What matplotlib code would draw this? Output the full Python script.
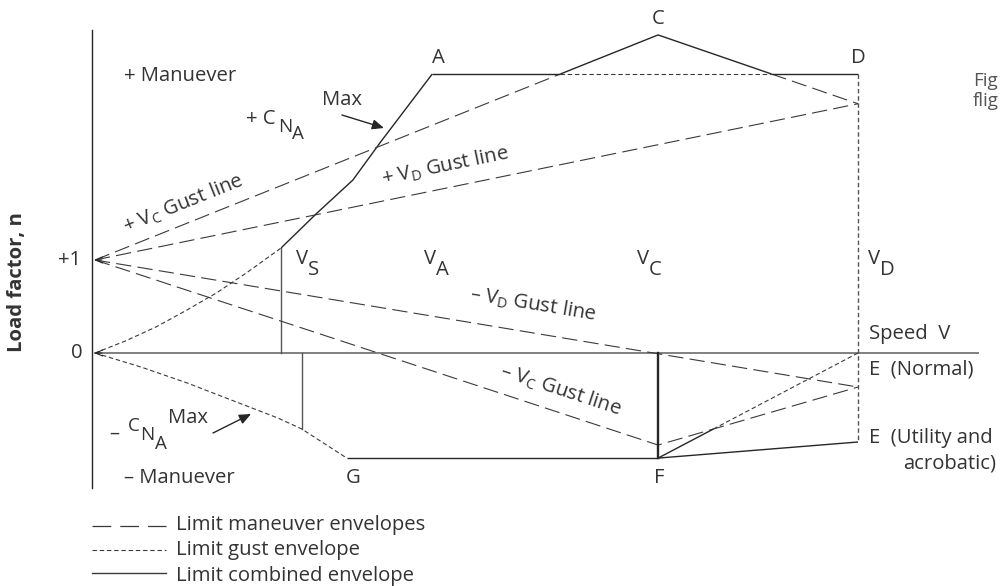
import matplotlib.pyplot as plt
import numpy as np

plt.rcParams['font.family'] = ['Open Sans', 'DejaVu Sans']
plt.rcParams['lines.scale_dashes'] = False

# speeds (V_D taken as 100) and load factors
V_S, V_S_NEG, V_G, V_A, V_C, V_D = 24.4, 27.1, 33.0, 44.2, 73.8, 100.0
N_POS, N_NEG = 3.0, -1.13
N_C = 3.42
N_D_GUST = 2.68
N_E_NORMAL = -0.366
N_E_UTIL = -0.957
N_F_GUST = -0.99
N_VS_TOP = 1.13
N_VS_NEG = -0.817
V_AXIS_END = 115.7

# +C_NA max curve (dotted part below V_S, solid part up to A)
pos_gust_v = [0, 4, 8, 12, 16, 20, 24.4]
pos_gust_n = [0, 0.13, 0.28, 0.46, 0.65, 0.87, 1.13]
pos_comb_v = [24.4, 29.1, 33.8, 37.35, 44.2]
pos_comb_n = [1.13, 1.505, 1.86, 2.26, 3.0]
# -C_NA max curve
neg_v = [0, 6, 12, 18, 24, 27.1, 33.0]
neg_n = [0, -0.15, -0.32, -0.51, -0.70, -0.817, -1.13]

INK = '#262626'
TXT = '#333333'
SOLID = dict(color=INK, lw=1.0, solid_capstyle='butt')
MAN = dict(color='#3a3a3a', lw=0.8, dashes=(11, 4.5))
GUST = dict(color='#3a3a3a', lw=0.8, dashes=(3.2, 2.0))
AXIS = dict(color='#808080', lw=1.4)

fig = plt.figure(figsize=(10, 5.86), dpi=100)
ax = fig.add_axes([0, 0, 1, 1])
ax.set_xlim(-95 / 7.63, 905 / 7.63)
ax.set_ylim(-233 / 93, 353 / 93)
ax.axis('off')


def px(x, y):
    # pixel position in the picture -> data coords (used for labels only)
    return (x - 95) / 7.63, (353 - y) / 93


def line_x_at_n(p, q, n):
    return p[0] + (n - p[1]) * (q[0] - p[0]) / (q[1] - p[1])


# axes
ax.plot([-0.4, -0.4], [3.47, -1.45], color=INK, lw=1.0)
ax.plot([0, V_AXIS_END], [0, 0], **AXIS)

# stall curves
ax.plot(pos_gust_v, pos_gust_n, **GUST)
ax.plot(pos_comb_v, pos_comb_n, **SOLID)
ax.plot([V_S, V_S], [0, N_VS_TOP], color='#555555', lw=1.0)
ax.plot(neg_v, neg_n, **GUST)
ax.plot([V_S_NEG, V_S_NEG], [0, N_VS_NEG], color='#555555', lw=1.0)

# positive gust lines and top of envelope
p_one = (0, 1)
p_c = (V_C, N_C)
p_dg = (V_D, N_D_GUST)
v1 = line_x_at_n(p_one, p_c, N_POS)
v2 = line_x_at_n(p_c, p_dg, N_POS)
ax.plot([0, v1], [1, N_POS], **MAN)
ax.plot([v1, V_C, v2], [N_POS, N_C, N_POS], **SOLID)
ax.plot([v2, V_D], [N_POS, N_D_GUST], **MAN)
ax.plot([0, V_D], [1, N_D_GUST], **MAN)
ax.plot([V_A, v1], [N_POS, N_POS], **SOLID)
ax.plot([v1, v2], [N_POS, N_POS], **GUST)
ax.plot([v2, V_D], [N_POS, N_POS], **SOLID)

# V_D line
ax.plot([V_D, V_D], [N_POS, N_E_UTIL], color='#555555', lw=1.0, dashes=(3.2, 2.0))

# negative gust lines
ax.plot([0, V_D], [1, N_E_NORMAL], **MAN)
ax.plot([0, V_C, V_D], [1, N_F_GUST, N_E_NORMAL], **MAN)

# bottom of envelope
ax.plot([V_G, V_C], [N_NEG, N_NEG], **SOLID)
ax.plot([V_C, V_C], [0, N_NEG], color=INK, lw=1.7)
ax.plot([V_C, V_D], [N_NEG, N_E_UTIL], **SOLID)

# F -> V_D at n = 0, solid up to the -V_C gust return line
s1 = (0 - N_NEG) / (V_D - V_C)
s2 = (N_E_NORMAL - N_F_GUST) / (V_D - V_C)
vx = V_C + (N_F_GUST - N_NEG) / (s1 - s2)
nx = N_NEG + s1 * (vx - V_C)
ax.plot([V_C, vx], [N_NEG, nx], **SOLID)
ax.plot([vx, V_D], [nx, 0], **GUST)

# small arrow heads at the origin points
for n0 in (1, 0):
    ax.annotate('', xy=(0, n0), xytext=(0.9, n0),
                arrowprops=dict(arrowstyle='->,head_length=0.45,head_width=0.22',
                                lw=0.8, color=INK, shrinkA=0, shrinkB=0))

FS = 14.6


def t(x, y, s, **kw):
    kw.setdefault('fontsize', FS)
    kw.setdefault('color', TXT)
    kw.setdefault('va', 'center')
    ax.text(*px(x, y), s, **kw)


def sub_label(x, y, main, sub, fs=FS, dx=12, dy=11):
    t(x, y, main, fontsize=fs)
    t(x + dx, y + dy, sub, fontsize=fs)


# labels
t(124, 76, '+ Manuever')
t(246, 119, '+ C')
t(278, 127, 'N', fontsize=13.5)
t(292, 134, 'A', fontsize=13.5)
t(322, 100, 'Max')
ax.annotate('', xy=px(384, 128), xytext=px(342, 115),
            arrowprops=dict(arrowstyle='-|>,head_length=0.7,head_width=0.3',
                            lw=1.0, color=INK, shrinkA=0, shrinkB=0))
t(438, 58, 'A', ha='center')
t(658, 19, 'C', ha='center')
t(858, 58, 'D', ha='center')
t(973, 81, 'Fig', color='#555555', fontsize=13.5)
t(973, 101, 'flig', color='#555555', fontsize=13.5)

ax.text(*px(183, 204), r'+ V$_{\mathregular{C}}$ Gust line', fontsize=FS, color=TXT,
        rotation=21.9, ha='center', va='center', rotation_mode='anchor')
ax.text(*px(445, 166), r'+ V$_{\mathregular{D}}$ Gust line', fontsize=FS, color=TXT,
        rotation=11.6, ha='center', va='center', rotation_mode='anchor')
ax.text(*px(533, 304), r'– V$_{\mathregular{D}}$ Gust line', fontsize=FS, color=TXT,
        rotation=-9.4, ha='center', va='center', rotation_mode='anchor')
ax.text(*px(561, 390), r'– V$_{\mathregular{C}}$ Gust line', fontsize=FS, color=TXT,
        rotation=-18.2, ha='center', va='center', rotation_mode='anchor')

sub_label(296, 259, 'V', 'S')
sub_label(424, 259, 'V', 'A')
sub_label(637, 259, 'V', 'C')
sub_label(868, 259, 'V', 'D')

t(81, 260, '+1', ha='right')
t(83, 353, '0', ha='right')
ax.text(*px(17, 282), 'Load factor, n', fontsize=FS, fontweight='bold', color=TXT,
        rotation=90, ha='center', va='center')

t(869, 334, 'Speed  V')
t(869, 370, 'E  (Normal)')
t(869, 438, 'E  (Utility and')
t(996, 463, 'acrobatic)', ha='right')

t(109, 434, '–')
t(128, 426, 'C', fontsize=13.5)
t(140, 435, 'N', fontsize=13.5)
t(155, 444, 'A', fontsize=13.5)
t(168, 418, 'Max')
ax.annotate('', xy=px(251, 414), xytext=px(213, 433),
            arrowprops=dict(arrowstyle='-|>,head_length=0.7,head_width=0.3',
                            lw=1.0, color=INK, shrinkA=0, shrinkB=0))
t(124, 478, '– Manuever')
t(353, 478, 'G', ha='center')
t(659, 478, 'F', ha='center')

# legend
ax.plot(*zip(px(92, 526), px(166, 526)), color='#3a3a3a', lw=0.9, dashes=(13.5, 6.5))
ax.plot(*zip(px(92, 550), px(166, 550)), color='#3a3a3a', lw=0.8, dashes=(3.2, 2.0))
ax.plot(*zip(px(92, 573), px(166, 573)), color='#3a3a3a', lw=1.0)
t(176, 525, 'Limit maneuver envelopes')
t(176, 550, 'Limit gust envelope')
t(176, 576, 'Limit combined envelope')

fig.savefig('out.png', dpi=100, facecolor='white')
